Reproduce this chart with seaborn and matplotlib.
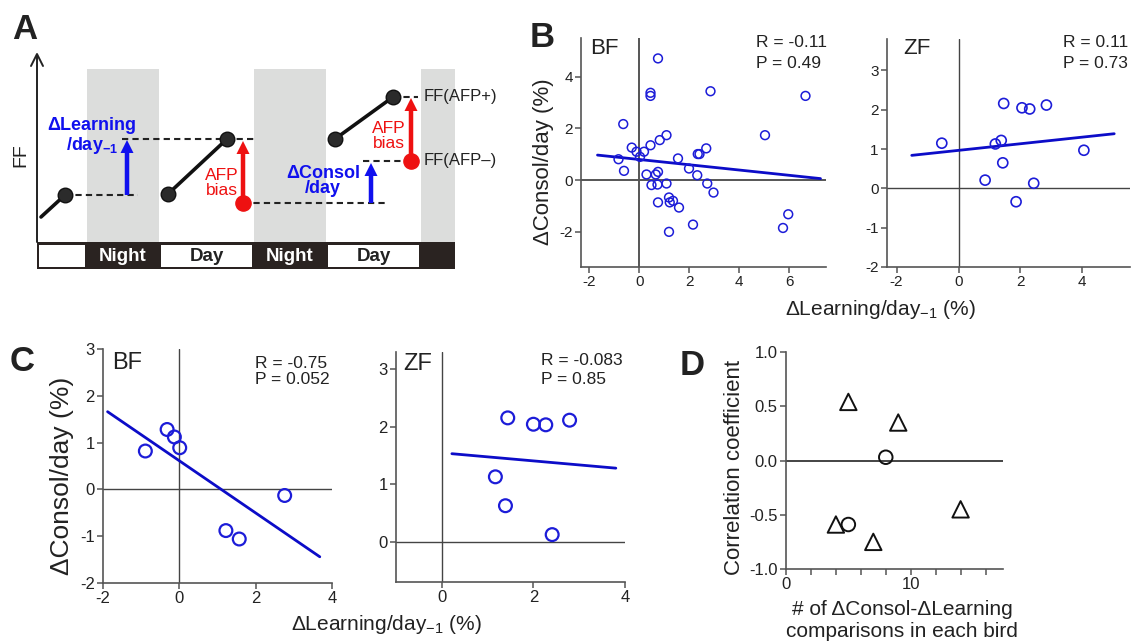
import numpy as np
import matplotlib.pyplot as plt
import seaborn as sns
from matplotlib.patches import Rectangle

# ---- panel B data (all comparisons) ----
b_bf_learn = [0.75, 0.45, 0.45, 2.85, 6.65, -0.64, 1.09, 5.03, 0.82, 0.45, -0.30, 2.68, -0.11,
              0.19, 0.03, 2.34, 2.41, -0.83, 1.55, -0.61, 1.99, 0.29, 0.66, 0.75, 2.32, 0.49,
              0.73, 1.09, 2.72, 2.97, 0.75, 1.19, 1.22, 1.35, 1.59, 2.15, 1.19, 5.96, 5.75]
b_bf_consol = [4.71, 3.38, 3.26, 3.44, 3.26, 2.17, 1.74, 1.74, 1.55, 1.35, 1.26, 1.23, 1.10,
               1.10, 0.90, 1.01, 1.01, 0.81, 0.84, 0.36, 0.45, 0.22, 0.22, 0.32, 0.19, -0.19,
               -0.17, -0.13, -0.13, -0.48, -0.86, -0.67, -0.86, -0.80, -1.06, -1.72, -2.00, -1.32, -1.85]
b_bf_fit_x = [-1.67, 7.25]
b_bf_fit_y = [0.97, 0.06]

b_zf_learn = [-0.54, 1.46, 2.05, 2.30, 2.84, 1.38, 1.19, 4.05, 1.43, 0.86, 2.43, 1.86]
b_zf_consol = [1.15, 2.16, 2.05, 2.02, 2.12, 1.22, 1.13, 0.97, 0.65, 0.21, 0.13, -0.34]
b_zf_fit_x = [-1.51, 5.03]
b_zf_fit_y = [0.84, 1.39]

# ---- panel C data (bird averages) ----
c_bf_learn = [-0.89, -0.32, -0.13, 0.01, 1.22, 1.57, 2.76]
c_bf_consol = [0.82, 1.28, 1.12, 0.89, -0.88, -1.06, -0.13]
c_bf_fit_x = [-1.88, 3.68]
c_bf_fit_y = [1.66, -1.44]

c_zf_learn = [1.44, 2.00, 2.27, 2.79, 1.17, 1.39, 2.41]
c_zf_consol = [2.15, 2.04, 2.03, 2.11, 1.13, 0.63, 0.13]
c_zf_fit_x = [0.22, 3.80]
c_zf_fit_y = [1.53, 1.28]

# ---- panel D data ----
d_tri_n = [5, 9, 4, 7, 14]
d_tri_r = [0.54, 0.35, -0.59, -0.75, -0.45]
d_circ_n = [8, 5]
d_circ_r = [0.03, -0.59]

# ---- panel A schematic (pixel layout of the drawing) ----
night_x0 = [87, 254, 421]
night_x1 = [159, 326, 455]
bar_edges = [37, 87, 159, 254, 326, 421, 455]
bar_labels = ['', 'Night', 'Day', 'Night', 'Day', '']
traj_x = [[41, 65], [168, 227], [335, 393]]
traj_y = [[217, 195], [194, 139], [139, 97]]
dot_x = [65, 168, 227, 335, 393]
dot_y = [195, 194, 139, 139, 97]
red_dot_x = [243, 411]
red_dot_y = [203, 161]
dash_y = [195, 139, 203, 161, 97]
dash_x0 = [65, 122, 243, 363, 393]
dash_x1 = [138, 254, 385, 411, 418]
arrow_x = [127, 243, 371, 411]
arrow_y0 = [195, 203, 203, 161]
arrow_y1 = [140, 141, 163, 98]
arrow_c = ['blue', 'red', 'blue', 'red']

W, H = 1136, 642
BLUE = '#1c1cd8'
LINE_BLUE = '#0c0cc8'
RED = '#ee1111'
GRAY = '#555555'

sns.set_theme(style='ticks')
plt.rcParams['font.family'] = ['Liberation Sans', 'DejaVu Sans']
plt.rcParams['mathtext.fontset'] = 'custom'
plt.rcParams['mathtext.rm'] = 'Liberation Sans'
plt.rcParams['mathtext.it'] = 'Liberation Sans:italic'
plt.rcParams['mathtext.bf'] = 'Liberation Sans:bold'
plt.rcParams['axes.unicode_minus'] = False

fig = plt.figure(figsize=(W / 100, H / 100), dpi=100)


def box(l, t, r, b):
    return [l / W, 1 - b / H, (r - l) / W, (b - t) / H]


def ptext(x, y, s, **kw):
    kw.setdefault('color', '#222222')
    fig.text(x / W, 1 - y / H, s, **kw)


def style(ax, xlim, ylim, xticks, yticks, size, zc='#444444', zlw=1.0):
    ax.set_xlim(xlim)
    ax.set_ylim(ylim)
    ax.set_xticks(xticks)
    ax.set_yticks(yticks)
    sns.despine(ax=ax)
    for s in ('left', 'bottom'):
        ax.spines[s].set_color(GRAY)
        ax.spines[s].set_linewidth(1.2)
    ax.tick_params(labelsize=size, length=4, width=1.1, color=GRAY,
                   labelcolor='#222222', pad=2)
    ax.axhline(0, color=zc, lw=zlw, zorder=1)
    ax.axvline(0, color=zc, lw=zlw, zorder=1)
    ax.set_xlabel('')
    ax.set_ylabel('')


def scatter_fit(ax, x, y, fx, fy, s, lw, ms_lw):
    sns.scatterplot(x=x, y=y, ax=ax, s=s, marker='o', facecolor='none',
                    edgecolor=BLUE, linewidth=ms_lw, zorder=3, legend=False)
    sns.lineplot(x=fx, y=fy, ax=ax, color=LINE_BLUE, lw=lw, zorder=2)


# ================= panel A =================
axA = fig.add_axes(box(0, 0, 470, 280))
axA.set_xlim(0, 470)
axA.set_ylim(280, 0)
axA.axis('off')
for x0, x1 in zip(night_x0, night_x1):
    axA.add_patch(Rectangle((x0, 69), x1 - x0, 173, fc='#dcdddc', ec='none', zorder=0))
axA.add_patch(Rectangle((bar_edges[0], 242), bar_edges[-1] - bar_edges[0], 27,
                        fc='#2a2321', ec='none', zorder=1))
for i, lab in enumerate(bar_labels):
    x0, x1 = bar_edges[i], bar_edges[i + 1]
    if lab in ('', 'Day') and i < len(bar_labels) - 1:
        axA.add_patch(Rectangle((x0 + 2, 244.5), x1 - x0 - 4, 22, fc='white', ec='none', zorder=2))
    if lab:
        axA.text((x0 + x1) / 2, 256, lab, ha='center', va='center', fontsize=13.5,
                 fontweight='bold', color='white' if lab == 'Night' else '#222222', zorder=3)
axA.plot([37, 37], [242, 55], color='#222222', lw=1.4)
axA.plot([31, 37, 43], [66, 54, 66], color='#222222', lw=1.4)
for y, x0, x1 in zip(dash_y, dash_x0, dash_x1):
    axA.plot([x0, x1], [y, y], color='#222222', lw=1.5, ls=(0, (3, 2)), zorder=2)
for xs, ys in zip(traj_x, traj_y):
    axA.plot(xs, ys, color='#111111', lw=2.6, zorder=3)
axA.scatter(dot_x, dot_y, s=110, color='#2b2b2b', edgecolor='#111111', lw=1, zorder=4)
for x, y0, y1, c in zip(arrow_x, arrow_y0, arrow_y1, arrow_c):
    col = '#1010ee' if c == 'blue' else RED
    axA.arrow(x, y0, 0, y1 - y0, width=4.5, head_width=13, head_length=13,
              length_includes_head=True, fc=col, ec='none', zorder=5)
axA.scatter(red_dot_x, red_dot_y, s=120, color=RED, zorder=6)
axA.text(92, 130, 'ΔLearning', ha='center', va='baseline', fontsize=13,
         fontweight='bold', color='#1010ee')
axA.text(92, 150, r'/day$\mathbf{_{-1}}$', ha='center', va='baseline', fontsize=13,
         fontweight='bold', color='#1010ee')
axA.text(323, 178, 'ΔConsol', ha='center', va='baseline', fontsize=13,
         fontweight='bold', color='#1010ee')
axA.text(323, 193, '/day', ha='center', va='baseline', fontsize=13,
         fontweight='bold', color='#1010ee')
for cx, by in [(222, 180), (389, 133)]:
    axA.text(cx, by, 'AFP', ha='center', va='baseline', fontsize=12.5, color=RED)
    axA.text(cx, by + 15, 'bias', ha='center', va='baseline', fontsize=12.5, color=RED)
axA.text(424, 97, 'FF(AFP+)', ha='left', va='center', fontsize=12, color='#222222')
axA.text(424, 161, 'FF(AFP–)', ha='left', va='center', fontsize=12, color='#222222')
axA.text(21, 155, 'FF', ha='center', va='center', rotation=90, fontsize=14, color='#222222')

# ================= panel B =================
axB1 = fig.add_axes(box(581, 38, 826, 267))
scatter_fit(axB1, b_bf_learn, b_bf_consol, b_bf_fit_x, b_bf_fit_y, 40, 2.0, 1.1)
style(axB1, (-2.33, 7.47), (-3.36, 5.5), [-2, 0, 2, 4, 6], [-2, 0, 2, 4], 11,
      zc='#555555', zlw=1.4)

axB2 = fig.add_axes(box(887, 39, 1130, 267))
scatter_fit(axB2, b_zf_learn, b_zf_consol, b_zf_fit_x, b_zf_fit_y, 52, 2.0, 1.2)
style(axB2, (-2.31, 5.54), (-2, 3.8), [-2, 0, 2, 4], [-2, -1, 0, 1, 2, 3], 11)

# ================= panel C =================
axC1 = fig.add_axes(box(103, 349, 332, 583))
scatter_fit(axC1, c_bf_learn, c_bf_consol, c_bf_fit_x, c_bf_fit_y, 85, 2.0, 1.6)
style(axC1, (-2, 4), (-2, 3), [-2, 0, 2, 4], [-2, -1, 0, 1, 2, 3], 12)

axC2 = fig.add_axes(box(396, 352, 625, 582))
scatter_fit(axC2, c_zf_learn, c_zf_consol, c_zf_fit_x, c_zf_fit_y, 85, 2.0, 1.6)
style(axC2, (-1, 4), (-0.69, 3.29), [0, 2, 4], [0, 1, 2, 3], 12)

# ================= panel D =================
axD = fig.add_axes(box(786, 352, 1003, 569))
sns.scatterplot(x=d_tri_n, y=d_tri_r, ax=axD, marker='^', s=140, facecolor='none',
                edgecolor='#111111', linewidth=1.4, zorder=3, legend=False)
sns.scatterplot(x=d_circ_n, y=d_circ_r, ax=axD, marker='o', s=95, facecolor='none',
                edgecolor='#111111', linewidth=1.4, zorder=3, legend=False)
axD.set_xlim(0, 17.4)
axD.set_ylim(-1, 1)
axD.set_xticks([0, 10])
axD.set_xticks(np.arange(2, 17, 2), minor=True)
axD.set_yticks([-1, -0.5, 0, 0.5, 1])
axD.set_yticklabels(['-1.0', '-0.5', '0.0', '0.5', '1.0'])
sns.despine(ax=axD)
for s in ('left', 'bottom'):
    axD.spines[s].set_color(GRAY)
    axD.spines[s].set_linewidth(1.2)
axD.tick_params(which='both', labelsize=12, length=4, width=1.1, color=GRAY,
                labelcolor='#222222', pad=2)
axD.axhline(0, color='#111111', lw=1.1, zorder=1)
axD.set_xlabel('')
axD.set_ylabel('')

# ================= texts =================
for x, y, s in [(12, 39, 'A'), (530, 47, 'B'), (10, 371, 'C'), (680, 375, 'D')]:
    ptext(x, y, s, fontsize=25, fontweight='bold', ha='left', va='baseline')

for x, y, s, fs in [(590, 54, 'BF', 16), (903, 54, 'ZF', 16),
                    (112, 369, 'BF', 17), (403, 370, 'ZF', 17)]:
    ptext(x, y, s, fontsize=fs, ha='left', va='baseline')

for x, y1, y2, r, p in [(756, 47, 68, 'R = -0.11', 'P = 0.49'),
                        (1063, 47, 68, 'R = 0.11', 'P = 0.73'),
                        (255, 368, 384, 'R = -0.75', 'P = 0.052'),
                        (541, 365, 384, 'R = -0.083', 'P = 0.85')]:
    ptext(x, y1, r, fontsize=12.5, ha='left', va='baseline')
    ptext(x, y2, p, fontsize=12.5, ha='left', va='baseline')

ptext(543, 162, 'ΔConsol/day (%)', fontsize=16, rotation=90, ha='center', va='center')
ptext(880, 310, 'ΔLearning/day$_{-1}$ (%)', fontsize=15, ha='center', va='center')
ptext(62, 476, 'ΔConsol/day (%)', fontsize=19, rotation=90, ha='center', va='center')
ptext(386, 624, 'ΔLearning/day$_{-1}$ (%)', fontsize=15, ha='center', va='center')
ptext(735, 467, 'Correlation coefficient', fontsize=16, rotation=90, ha='center', va='center')
ptext(902, 615, '# of ΔConsol-ΔLearning', fontsize=15, ha='center', va='baseline')
ptext(902, 637, 'comparisons in each bird', fontsize=15, ha='center', va='baseline')

fig.savefig('out.png', dpi=100)
